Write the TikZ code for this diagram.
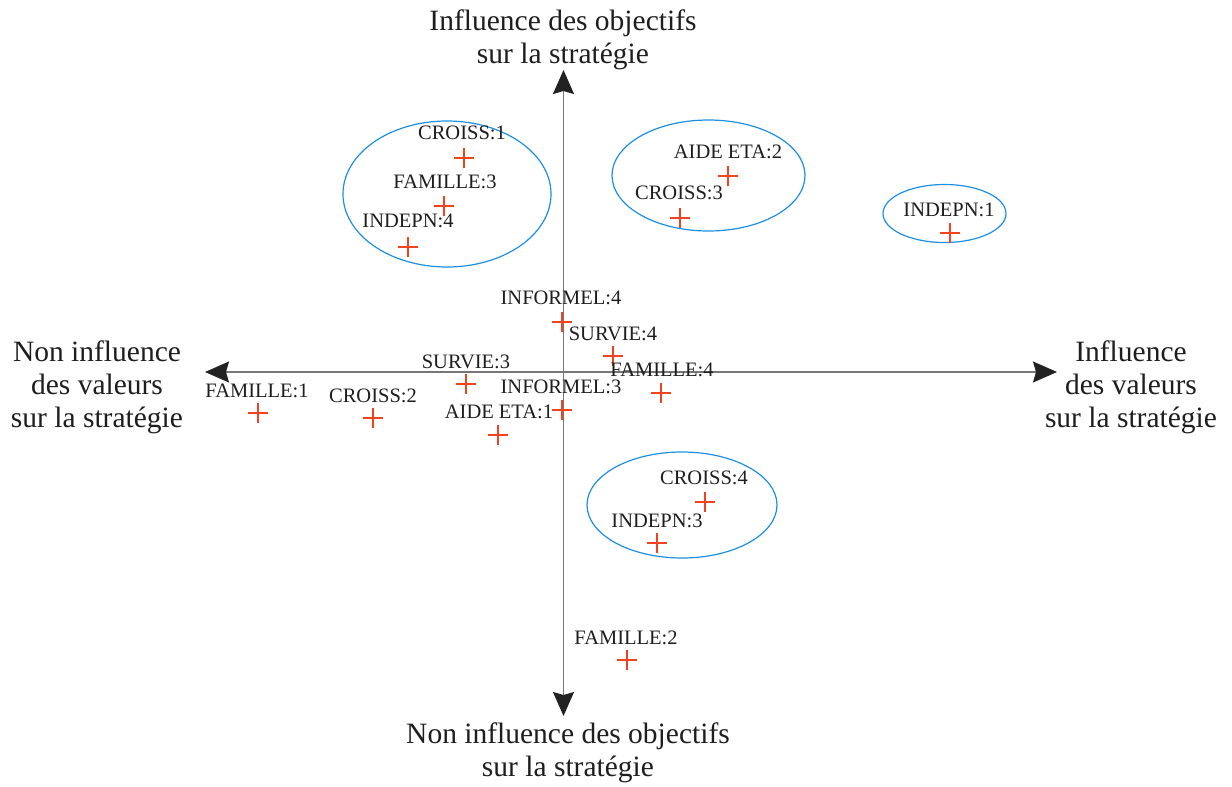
\documentclass[tikz,border=0pt]{standalone}
\usepackage{fontspec}
\setmainfont{Liberation Serif}
\usetikzlibrary{arrows.meta,shapes.misc}
\definecolor{axisgray}{HTML}{777777}
\definecolor{tipdark}{HTML}{222222}
\definecolor{textdark}{HTML}{1E1E1E}
\definecolor{ringblue}{HTML}{1E8FE0}
\definecolor{markred}{HTML}{F0431E}
\begin{document}
\begin{tikzpicture}[x=1pt,y=-1pt,
  axis/.style={draw=axisgray,line width=1.6pt,
    arrows={Stealth[length=24pt,width=21pt,inset=3pt,color=tipdark]-Stealth[length=24pt,width=21pt,inset=3pt,color=tipdark]}},
  axislabel/.style={text=textdark,align=center,inner sep=0pt,
    font=\fontsize{29.5}{33}\selectfont},
  ptlabel/.style={text=textdark,inner sep=0pt,font=\fontsize{20.5}{24}\selectfont},
  plus/.style={cross out,rotate=45,draw=markred,line width=2.2pt,
    minimum size=12pt,inner sep=0pt},
  ring/.style={draw=ringblue,line width=1.2pt}]
\useasboundingbox (0,0) rectangle (1232,787);

% axes
\coordinate (W) at (205,372);
\coordinate (E) at (1057,372);
\coordinate (N) at (563.5,70);
\coordinate (S) at (563.5,716);
\draw[axis] (W) -- (E);
\draw[axis] (S) -- (N);

% axis captions
\node[axislabel] (capN) at (563,40) {Influence des objectifs\\sur la stratégie};
\node[axislabel] (capS) at (568,753) {Non influence des objectifs\\sur la stratégie};
\node[axislabel] (capW) at (97,387) {Non influence\\des valeurs\\sur la stratégie};
\node[axislabel] (capE) at (1131,387) {Influence\\des valeurs\\sur la stratégie};

% groupings
\draw[ring] (447,194) ellipse [x radius=104,y radius=73];
\draw[ring] (708.5,175.5) ellipse [x radius=96.5,y radius=55.5];
\draw[ring] (944.5,213.5) ellipse [x radius=61.5,y radius=29];
\draw[ring] (682,505) ellipse [x radius=95,y radius=53];

% points and their labels
\node[plus] (croiss1) at (464,158) {};
\node[ptlabel] (lcroiss1) at (462,133) {CROISS:1};
\node[plus] (famille3) at (444,206) {};
\node[ptlabel] (lfamille3) at (445,182) {FAMILLE:3};
\node[plus] (indepn4) at (408,247) {};
\node[ptlabel] (lindepn4) at (408,221) {INDEPN:4};
\node[plus] (aide2) at (728,176) {};
\node[ptlabel] (laide2) at (728,152) {AIDE ETA:2};
\node[plus] (croiss3) at (680,218) {};
\node[ptlabel] (lcroiss3) at (679,193) {CROISS:3};
\node[plus] (indepn1) at (950,233) {};
\node[ptlabel] (lindepn1) at (949,210) {INDEPN:1};
\node[plus] (informel4) at (562,322) {};
\node[ptlabel] (linformel4) at (561,298) {INFORMEL:4};
\node[plus] (survie4) at (613,356) {};
\node[ptlabel] (lsurvie4) at (613,334) {SURVIE:4};
\node[plus] (survie3) at (466,384) {};
\node[ptlabel] (lsurvie3) at (466,362) {SURVIE:3};
\node[plus] (famille4) at (661,393) {};
\node[ptlabel] (lfamille4) at (662,370) {FAMILLE:4};
\node[plus] (informel3) at (562,410) {};
\node[ptlabel] (linformel3) at (561,387) {INFORMEL:3};
\node[plus] (aide1) at (498,435) {};
\node[ptlabel] (laide1) at (499,412) {AIDE ETA:1};
\node[plus] (croiss4) at (705,502) {};
\node[ptlabel] (lcroiss4) at (704,478) {CROISS:4};
\node[plus] (indepn3) at (657,543) {};
\node[ptlabel] (lindepn3) at (657,521) {INDEPN:3};
\node[plus] (famille1) at (258,413) {};
\node[ptlabel] (lfamille1) at (257,391) {FAMILLE:1};
\node[plus] (croiss2) at (373,418) {};
\node[ptlabel] (lcroiss2) at (373,396) {CROISS:2};
\node[plus] (famille2) at (627,660) {};
\node[ptlabel] (lfamille2) at (626,638) {FAMILLE:2};
\end{tikzpicture}
\end{document}
